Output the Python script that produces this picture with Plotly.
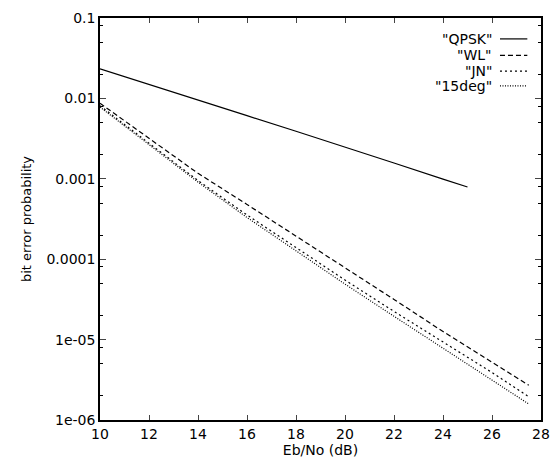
import plotly.graph_objects as go

# ---- data ----
snr_qpsk = [10, 12, 14, 16, 18, 20, 22, 24, 25]
ber_qpsk = [0.0233, 0.0150, 0.0096, 0.0061, 0.0039, 0.0025, 0.00157, 0.00099, 0.00079]

snr_div = [10, 12, 14, 16, 18, 20, 22, 24, 26, 27.5]
ber_wl = [8.7e-3, 3.2e-3, 1.17e-3, 4.8e-4, 1.95e-4, 7.9e-5, 3.16e-5, 1.26e-5, 5.2e-6, 2.7e-6]
ber_jn = [8.1e-3, 2.8e-3, 9.5e-4, 3.55e-4, 1.38e-4, 5.5e-5, 2.24e-5, 9.3e-6, 3.9e-6, 1.95e-6]
ber_15 = [7.8e-3, 2.68e-3, 9.1e-4, 3.3e-4, 1.26e-4, 4.9e-5, 1.95e-5, 7.8e-6, 3.2e-6, 1.58e-6]

series_names = ['"QPSK"', '"WL"', '"JN"', '"15deg"']
series_dash = ["solid", "5px,3px", "2px,3px", "1px,1.5px"]

x_ticks = [10, 12, 14, 16, 18, 20, 22, 24, 26, 28]
y_tickvals = [1e-6, 1e-5, 1e-4, 1e-3, 1e-2, 1e-1]
y_ticktext = ["1e-06", "1e-05", "0.0001", "0.001", "0.01", "0.1"]

FONT = "DejaVu Sans, Liberation Sans, Arial, sans-serif"

fig = go.Figure()
xs = [snr_qpsk, snr_div, snr_div, snr_div]
ys = [ber_qpsk, ber_wl, ber_jn, ber_15]
for name, x, y, d in zip(series_names, xs, ys, series_dash):
    fig.add_trace(go.Scatter(x=x, y=y, mode="lines", name=name,
                             line=dict(color="black", width=1.2, dash=d),
                             showlegend=False))

# gnuplot-style legend: right-aligned text, line sample on its right
leg_y = [0.948, 0.907, 0.868, 0.831]
for name, d, yy in zip(series_names, series_dash, leg_y):
    fig.add_annotation(xref="paper", yref="paper", x=0.893, y=yy, text=name,
                       showarrow=False, xanchor="right", yanchor="middle",
                       font=dict(family=FONT, size=14, color="black"))
    fig.add_shape(type="line", xref="paper", yref="paper",
                  x0=0.907, x1=0.969, y0=yy, y1=yy,
                  line=dict(color="black", width=1.2, dash=d))

minor_vals = []
for e in range(-6, -1):
    for m in (2, 5, 8):
        minor_vals.append(m * 10 ** e)

fig.update_layout(
    width=560, height=461,
    margin=dict(l=100, r=10, t=13, b=41),
    paper_bgcolor="white", plot_bgcolor="white",
    font=dict(family=FONT, size=14, color="black"),
    xaxis=dict(range=[10, 28], tickvals=x_ticks, ticks="inside", ticklen=5,
               tickwidth=1, mirror="ticks", showline=True, linecolor="black",
               linewidth=1.5, showgrid=False, zeroline=False,
               tickfont=dict(family=FONT, size=14),
               title=dict(text="Eb/No (dB)", standoff=0,
                          font=dict(family=FONT, size=14))),
    yaxis=dict(type="log", range=[-6, -1], tickvals=y_tickvals,
               ticktext=y_ticktext, ticks="inside", ticklen=6, tickwidth=1,
               mirror="ticks", showline=True, linecolor="black", linewidth=1.5,
               showgrid=False, zeroline=False,
               tickfont=dict(family=FONT, size=14),
               minor=dict(tickvals=minor_vals, ticks="inside", ticklen=3,
                          tickcolor="black", showgrid=False),
               title=dict(text="bit error probability", standoff=12,
                          font=dict(family=FONT, size=13))),
)

fig.write_html("out.html",
               config={"displayModeBar": False},
               post_script="document.body.style.margin='0';"
                           "document.body.style.padding='0';"
                           "document.body.style.overflow='hidden';")
